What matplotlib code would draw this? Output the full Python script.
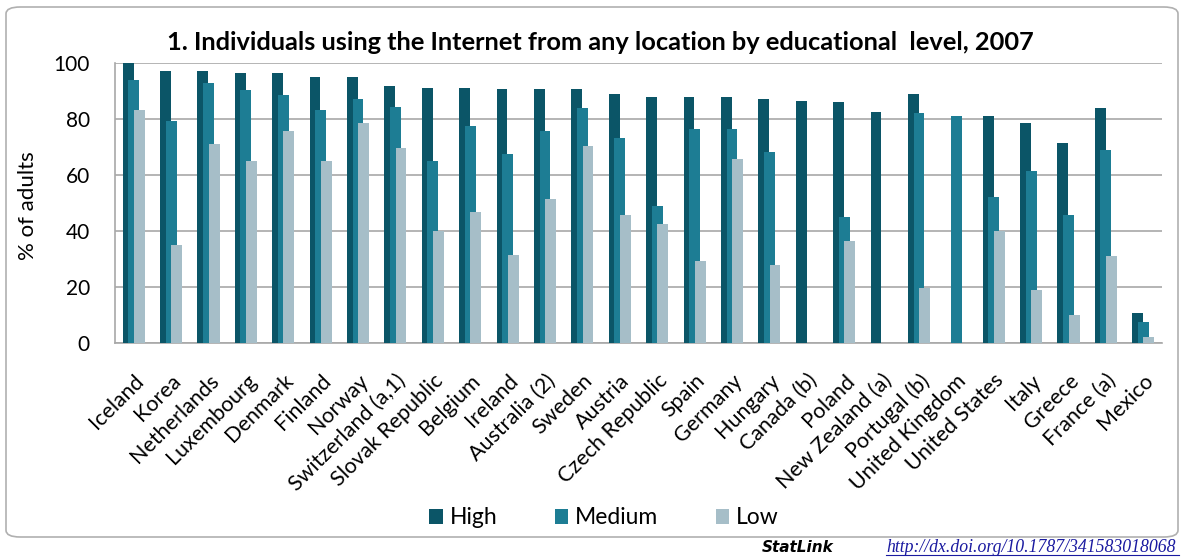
import matplotlib.pyplot as plt
from matplotlib.patches import FancyBboxPatch
from matplotlib.lines import Line2D
import numpy as np

countries = ["Iceland", "Korea", "Netherlands", "Luxembourg", "Denmark", "Finland",
             "Norway", "Switzerland (a,1)", "Slovak Republic", "Belgium", "Ireland",
             "Australia (2)", "Sweden", "Austria", "Czech Republic", "Spain", "Germany",
             "Hungary", "Canada (b)", "Poland", "New Zealand (a)", "Portugal (b)",
             "United Kingdom", "United States", "Italy", "Greece", "France (a)", "Mexico"]
nan = np.nan
high = [100, 97, 97, 96.4, 96.4, 95, 95, 91.8, 91, 91, 90.5, 90.5, 90.5, 89, 87.9,
        87.9, 87.9, 87, 86.4, 85.8, 82.5, 89, nan, 81.1, 78.6, 71.4, 83.9, 10.5]
medium = [93.8, 79.2, 92.6, 90.2, 88.5, 83.1, 87, 84.3, 64.9, 77.5, 67.4, 75.7, 83.9,
          73, 48.8, 76.3, 76.3, 68.2, nan, 45, nan, 81.9, 81.1, 52.1, 61.4, 45.6, 68.8, 7.3]
low = [83.1, 34.9, 71, 64.9, 75.6, 64.9, 78.6, 69.6, 39.9, 46.8, 31.3, 51.5, 70.2, 45.6,
       42.3, 29.3, 65.6, 27.7, nan, 36.3, nan, 19.6, nan, 39.9, 18.8, 9.9, 31.1, 2.1]

c_high = "#0b5567"
c_med = "#1d7d94"
c_low = "#a6bec8"

plt.rcParams['font.family'] = ['Lato', 'DejaVu Sans']

fig = plt.figure(figsize=(11.84, 5.58), dpi=100)

# rounded frame round the chart
frame = FancyBboxPatch((6 / 1184, 1 - 537 / 558), 1172 / 1184, 530 / 558,
                       boxstyle="round,pad=0,rounding_size=0.012",
                       transform=fig.transFigure, fill=False,
                       edgecolor="#b0b0b0", linewidth=1.2)
fig.patches.append(frame)

ax = fig.add_axes([115 / 1184, 1 - 342.7 / 558, 1047 / 1184, 280 / 558])

x = np.arange(len(countries))
w = 0.29
off = 0.15
ax.bar(x - off, high, w, color=c_high, label="High", zorder=3)
ax.bar(x, medium, w, color=c_med, label="Medium", zorder=4)
ax.bar(x + off, low, w, color=c_low, label="Low", zorder=5)

ax.set_xlim(-0.5, len(countries) - 0.5)
ax.set_ylim(0, 100)
ax.set_yticks(range(0, 101, 20))
ax.yaxis.grid(True, color="#a8a8a8", linewidth=1.2, zorder=0)
ax.tick_params(axis="y", length=0, labelsize=15, pad=18)
ax.tick_params(axis="x", length=0, labelsize=15.5, pad=20)
ax.set_xticks(x)
ax.set_xticklabels(countries, rotation=45, ha="right", rotation_mode="anchor")
ax.set_ylabel("% of adults", fontsize=16)
ax.yaxis.set_label_coords(-0.074, 0.49)

for s in ["top", "right"]:
    ax.spines[s].set_visible(False)
ax.spines["left"].set_color("#a8a8a8")
ax.spines["bottom"].set_color("#a8a8a8")
ax.spines["left"].set_linewidth(1.2)
ax.spines["bottom"].set_linewidth(1.2)

fig.text(600 / 1184, 1 - 43 / 558,
         "1. Individuals using the Internet from any location by educational  level, 2007",
         ha="center", va="center", fontsize=18.3, fontweight="bold")

fig.legend(loc="center", bbox_to_anchor=(604 / 1184, 1 - 518 / 558), ncol=3,
           frameon=False, fontsize=16.5, handlelength=0.6, handleheight=0.6,
           handletextpad=0.3, columnspacing=2.5)

fig.text(762 / 1184, 1 - 548 / 558, "StatLink", fontsize=11, fontweight="bold",
         style="italic", family="DejaVu Sans", va="center")
fig.text(886 / 1184, 1 - 548 / 558, "http://dx.doi.org/10.1787/341583018068",
         fontsize=12.8, style="italic", family="Liberation Serif", color="#1a1aa0",
         va="center")
fig.lines.append(Line2D([886 / 1184, 1179 / 1184], [1 - 555 / 558, 1 - 555 / 558],
                        transform=fig.transFigure, color="#1a1aa0", linewidth=0.8))

fig.savefig("out.png", dpi=100)
